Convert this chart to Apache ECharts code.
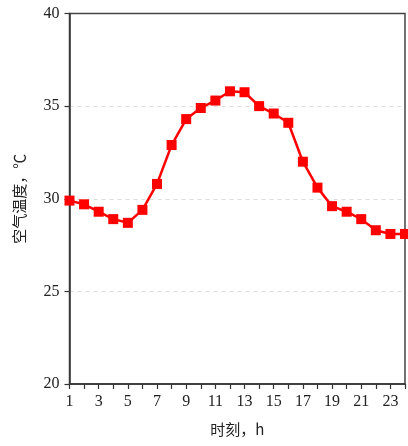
<!DOCTYPE html>
<html>
<head>
<meta charset="utf-8">
<script src="https://cdn.jsdelivr.net/npm/echarts@6/dist/echarts.min.js"></script>
<style>
  html, body { margin: 0; padding: 0; background: #fff; }
  #chart { width: 408px; height: 446px; }
</style>
</head>
<body>
<div id="chart"></div>
<script>
// Hour of day and hourly air temperature (°C)
const hours = [1, 2, 3, 4, 5, 6, 7, 8, 9, 10, 11, 12, 13, 14, 15, 16, 17, 18, 19, 20, 21, 22, 23, 24];
const airTemp = [29.9, 29.7, 29.3, 28.9, 28.7, 29.4, 30.8, 32.9, 34.3, 34.9, 35.3, 35.8, 35.75, 35.0, 34.6, 34.1,
                 32.0, 30.6, 29.6, 29.3, 28.9, 28.3, 28.1, 28.1];
const xTickLabels = ['1', '3', '5', '7', '9', '11', '13', '15', '17', '19', '21', '23'];

const serif = '"Liberation Serif", "Times New Roman", serif';
const cjk = '"Noto Sans CJK SC", "Liberation Serif", serif';

const chart = echarts.init(document.getElementById('chart'));
chart.setOption({
  animation: false,
  grid: {
    left: 69.5, right: 2.5, top: 13.5, bottom: 62,
    show: true, borderColor: '#444', borderWidth: 1.5, backgroundColor: 'transparent'
  },
  xAxis: {
    type: 'value',
    min: 1, max: 24, interval: 1,
    name: '时刻，h',
    nameLocation: 'middle',
    nameGap: 38,
    nameTextStyle: { fontFamily: cjk, fontSize: 15, color: '#222' },
    axisLine: { lineStyle: { color: '#333', width: 1.5 } },
    axisTick: { show: true, inside: false, length: 5, lineStyle: { color: '#333', width: 1.2 } },
    axisLabel: {
      fontFamily: serif, fontSize: 16, color: '#222', margin: 10,
      formatter: v => xTickLabels.includes(String(v)) ? String(v) : ''
    },
    splitLine: { show: false }
  },
  yAxis: {
    type: 'value',
    min: 20, max: 40, interval: 5,
    name: '空气温度，℃',
    nameLocation: 'middle',
    nameGap: 43,
    nameRotate: 90,
    nameTextStyle: { fontFamily: cjk, fontSize: 15, color: '#222' },
    axisLine: { show: true, lineStyle: { color: '#333', width: 1.5 } },
    axisTick: { show: true, inside: false, length: 5, lineStyle: { color: '#333', width: 1.2 } },
    axisLabel: { fontFamily: serif, fontSize: 16, color: '#222', margin: 10 },
    splitLine: {
      show: true, showMinLine: false, showMaxLine: false,
      lineStyle: { color: '#ddd', type: [4, 4], width: 1 }
    }
  },
  series: [{
    type: 'line',
    data: hours.map((h, i) => [h, airTemp[i]]),
    symbol: 'rect',
    symbolSize: 10,
    clip: false,
    lineStyle: { color: '#ff0000', width: 2.5 },
    itemStyle: { color: '#ff0000' }
  }]
});
</script>
</body>
</html>
